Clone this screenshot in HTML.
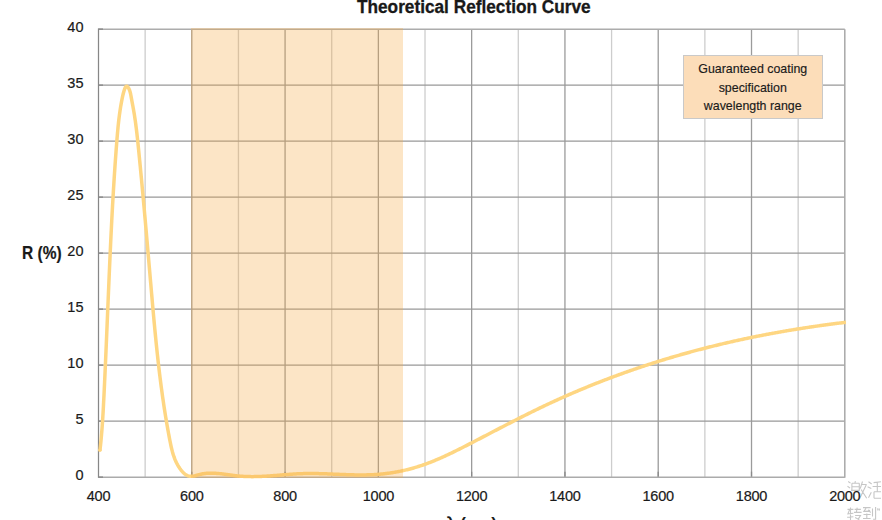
<!DOCTYPE html>
<html><head><meta charset="utf-8"><style>
html,body{margin:0;padding:0;background:#fff;}
body{width:882px;height:520px;position:relative;overflow:hidden;font-family:"Liberation Sans",sans-serif;color:#1a1a1a;}
svg{position:absolute;left:0;top:0;}
.band{position:absolute;left:191.0px;top:28.2px;width:212.0px;height:449.55px;background:rgba(245,168,65,0.3);}
.yl{position:absolute;right:798.5px;font-size:14.5px;line-height:15px;transform:translateY(-50%);-webkit-text-stroke:0.2px #1a1a1a;}
.xl{position:absolute;top:488.5px;font-size:14.5px;letter-spacing:-0.25px;line-height:15px;transform:translateX(-50%);-webkit-text-stroke:0.2px #1a1a1a;}
.title{position:absolute;left:357px;top:-1.5px;white-space:nowrap;font-weight:bold;font-size:18px;line-height:17px;transform:scaleX(0.957);transform-origin:0 0;-webkit-text-stroke:0.3px #111;}
.ytitle{position:absolute;left:21.8px;top:243.5px;font-weight:bold;font-size:17.5px;line-height:18px;transform:scaleX(0.885);transform-origin:0 0;-webkit-text-stroke:0.2px #111;}
.xtitle{position:absolute;left:446px;top:515px;font-weight:bold;font-size:17px;line-height:18px;}
.legend{position:absolute;left:683px;top:55px;width:139.5px;height:64px;border:1px solid #c9c9c9;background:#fcddb9;box-sizing:border-box;}
.ll{position:absolute;left:683px;width:139.5px;text-align:center;font-size:12.4px;line-height:15px;-webkit-text-stroke:0.15px #1a1a1a;}
</style></head><body>
<svg width="882" height="520" viewBox="0 0 882 520">
<line x1="145.14" y1="29.15" x2="145.14" y2="477.15" stroke="#cdcdcd" stroke-width="1.3"/><line x1="191.79" y1="29.15" x2="191.79" y2="477.15" stroke="#9b9b9b" stroke-width="1.3"/><line x1="191.79" y1="471.65" x2="191.79" y2="477.15" stroke="#8a8a8a" stroke-width="1.3"/><line x1="238.43" y1="29.15" x2="238.43" y2="477.15" stroke="#cdcdcd" stroke-width="1.3"/><line x1="285.07" y1="29.15" x2="285.07" y2="477.15" stroke="#9b9b9b" stroke-width="1.3"/><line x1="285.07" y1="471.65" x2="285.07" y2="477.15" stroke="#8a8a8a" stroke-width="1.3"/><line x1="331.72" y1="29.15" x2="331.72" y2="477.15" stroke="#cdcdcd" stroke-width="1.3"/><line x1="378.36" y1="29.15" x2="378.36" y2="477.15" stroke="#9b9b9b" stroke-width="1.3"/><line x1="378.36" y1="471.65" x2="378.36" y2="477.15" stroke="#8a8a8a" stroke-width="1.3"/><line x1="425.01" y1="29.15" x2="425.01" y2="477.15" stroke="#cdcdcd" stroke-width="1.3"/><line x1="471.65" y1="29.15" x2="471.65" y2="477.15" stroke="#9b9b9b" stroke-width="1.3"/><line x1="471.65" y1="471.65" x2="471.65" y2="477.15" stroke="#8a8a8a" stroke-width="1.3"/><line x1="518.29" y1="29.15" x2="518.29" y2="477.15" stroke="#cdcdcd" stroke-width="1.3"/><line x1="564.94" y1="29.15" x2="564.94" y2="477.15" stroke="#9b9b9b" stroke-width="1.3"/><line x1="564.94" y1="471.65" x2="564.94" y2="477.15" stroke="#8a8a8a" stroke-width="1.3"/><line x1="611.58" y1="29.15" x2="611.58" y2="477.15" stroke="#cdcdcd" stroke-width="1.3"/><line x1="658.22" y1="29.15" x2="658.22" y2="477.15" stroke="#9b9b9b" stroke-width="1.3"/><line x1="658.22" y1="471.65" x2="658.22" y2="477.15" stroke="#8a8a8a" stroke-width="1.3"/><line x1="704.87" y1="29.15" x2="704.87" y2="477.15" stroke="#cdcdcd" stroke-width="1.3"/><line x1="751.51" y1="29.15" x2="751.51" y2="477.15" stroke="#9b9b9b" stroke-width="1.3"/><line x1="751.51" y1="471.65" x2="751.51" y2="477.15" stroke="#8a8a8a" stroke-width="1.3"/><line x1="798.16" y1="29.15" x2="798.16" y2="477.15" stroke="#cdcdcd" stroke-width="1.3"/><line x1="98.5" y1="421.15" x2="844.8" y2="421.15" stroke="#989898" stroke-width="1.25"/><line x1="98.5" y1="421.15" x2="103.0" y2="421.15" stroke="#8c8c8c" stroke-width="1.4"/><line x1="98.5" y1="365.15" x2="844.8" y2="365.15" stroke="#989898" stroke-width="1.25"/><line x1="98.5" y1="365.15" x2="103.0" y2="365.15" stroke="#8c8c8c" stroke-width="1.4"/><line x1="98.5" y1="309.15" x2="844.8" y2="309.15" stroke="#989898" stroke-width="1.25"/><line x1="98.5" y1="309.15" x2="103.0" y2="309.15" stroke="#8c8c8c" stroke-width="1.4"/><line x1="98.5" y1="253.15" x2="844.8" y2="253.15" stroke="#989898" stroke-width="1.25"/><line x1="98.5" y1="253.15" x2="103.0" y2="253.15" stroke="#8c8c8c" stroke-width="1.4"/><line x1="98.5" y1="197.15" x2="844.8" y2="197.15" stroke="#989898" stroke-width="1.25"/><line x1="98.5" y1="197.15" x2="103.0" y2="197.15" stroke="#8c8c8c" stroke-width="1.4"/><line x1="98.5" y1="141.15" x2="844.8" y2="141.15" stroke="#989898" stroke-width="1.25"/><line x1="98.5" y1="141.15" x2="103.0" y2="141.15" stroke="#8c8c8c" stroke-width="1.4"/><line x1="98.5" y1="85.15" x2="844.8" y2="85.15" stroke="#989898" stroke-width="1.25"/><line x1="98.5" y1="85.15" x2="103.0" y2="85.15" stroke="#8c8c8c" stroke-width="1.4"/><line x1="98.5" y1="29.15" x2="844.8" y2="29.15" stroke="#acacac" stroke-width="1.5"/><line x1="98.5" y1="29.15" x2="103.0" y2="29.15" stroke="#8c8c8c" stroke-width="1.5"/><line x1="98.5" y1="477.15" x2="844.8" y2="477.15" stroke="#ababab" stroke-width="1.5"/><line x1="98.5" y1="477.15" x2="103.0" y2="477.15" stroke="#8c8c8c" stroke-width="1.5"/><line x1="844.8" y1="29.15" x2="844.8" y2="477.84999999999997" stroke="#a8a8a8" stroke-width="1.5"/><line x1="98.5" y1="28.45" x2="98.5" y2="477.84999999999997" stroke="#878787" stroke-width="1.25"/>
<path d="M99.95 450.33 L100.06 449.35 L100.18 448.37 L100.28 447.40 L100.39 446.42 L100.50 445.44 L100.60 444.46 L100.70 443.48 L100.80 442.50 L100.90 441.53 L100.99 440.55 L101.09 439.57 L101.18 438.59 L101.27 437.61 L101.36 436.63 L101.44 435.64 L101.53 434.66 L101.61 433.68 L101.69 432.70 L101.77 431.72 L101.85 430.74 L101.93 429.76 L102.00 428.77 L102.08 427.79 L102.15 426.81 L102.22 425.83 L102.29 424.84 L102.36 423.86 L102.43 422.88 L102.50 421.89 L102.56 420.91 L102.63 419.92 L102.69 418.94 L102.75 417.96 L102.81 416.97 L102.87 415.99 L102.93 415.00 L102.99 414.02 L103.05 413.04 L103.11 412.05 L103.16 411.07 L103.22 410.08 L103.27 409.10 L103.32 408.11 L103.38 407.13 L103.43 406.14 L103.48 405.16 L103.53 404.17 L103.58 403.19 L103.63 402.20 L103.68 401.21 L103.73 400.23 L103.78 399.24 L103.83 398.26 L103.88 397.27 L103.93 396.29 L103.98 395.30 L104.03 394.32 L104.07 393.33 L104.12 392.35 L104.17 391.36 L104.22 390.38 L104.26 389.39 L104.31 388.41 L104.36 387.42 L104.40 386.44 L104.45 385.45 L104.50 384.47 L104.54 383.48 L104.59 382.50 L104.63 381.51 L104.68 380.53 L104.73 379.54 L104.77 378.56 L104.82 377.57 L104.86 376.59 L104.91 375.60 L104.95 374.62 L105.00 373.63 L105.04 372.65 L105.09 371.66 L105.13 370.68 L105.18 369.69 L105.22 368.71 L105.26 367.72 L105.31 366.74 L105.35 365.75 L105.40 364.77 L105.44 363.79 L105.48 362.80 L105.53 361.82 L105.57 360.83 L105.61 359.85 L105.66 358.86 L105.70 357.88 L105.74 356.89 L105.79 355.91 L105.83 354.92 L105.87 353.94 L105.92 352.96 L105.96 351.97 L106.00 350.99 L106.04 350.00 L106.09 349.02 L106.13 348.03 L106.17 347.05 L106.21 346.06 L106.26 345.08 L106.30 344.09 L106.34 343.11 L106.38 342.13 L106.42 341.14 L106.47 340.16 L106.51 339.17 L106.55 338.19 L106.59 337.20 L106.63 336.22 L106.67 335.23 L106.72 334.25 L106.76 333.27 L106.80 332.28 L106.84 331.30 L106.88 330.31 L106.92 329.33 L106.96 328.34 L107.01 327.36 L107.05 326.37 L107.09 325.39 L107.13 324.41 L107.17 323.42 L107.21 322.44 L107.25 321.45 L107.29 320.47 L107.34 319.48 L107.38 318.50 L107.42 317.51 L107.46 316.53 L107.50 315.55 L107.54 314.56 L107.58 313.58 L107.62 312.59 L107.66 311.61 L107.71 310.62 L107.75 309.64 L107.79 308.65 L107.83 307.67 L107.87 306.68 L107.91 305.70 L107.95 304.72 L107.99 303.73 L108.04 302.75 L108.08 301.76 L108.12 300.78 L108.16 299.79 L108.20 298.81 L108.24 297.82 L108.28 296.84 L108.32 295.85 L108.37 294.87 L108.41 293.88 L108.45 292.90 L108.49 291.92 L108.53 290.93 L108.57 289.95 L108.62 288.96 L108.66 287.98 L108.70 286.99 L108.74 286.01 L108.78 285.02 L108.83 284.04 L108.87 283.05 L108.91 282.07 L108.95 281.08 L108.99 280.10 L109.04 279.11 L109.08 278.13 L109.12 277.14 L109.16 276.16 L109.21 275.17 L109.25 274.19 L109.29 273.20 L109.33 272.22 L109.38 271.23 L109.42 270.25 L109.46 269.26 L109.51 268.28 L109.55 267.29 L109.59 266.31 L109.64 265.32 L109.68 264.34 L109.72 263.35 L109.77 262.36 L109.81 261.38 L109.86 260.39 L109.90 259.41 L109.94 258.42 L109.99 257.44 L110.03 256.45 L110.08 255.47 L110.12 254.48 L110.17 253.50 L110.21 252.51 L110.26 251.52 L110.30 250.54 L110.35 249.55 L110.39 248.57 L110.44 247.58 L110.49 246.60 L110.53 245.61 L110.58 244.63 L110.62 243.64 L110.67 242.66 L110.72 241.67 L110.76 240.68 L110.81 239.70 L110.86 238.71 L110.90 237.73 L110.95 236.74 L111.00 235.76 L111.05 234.77 L111.10 233.79 L111.14 232.80 L111.19 231.81 L111.24 230.83 L111.29 229.84 L111.34 228.86 L111.39 227.87 L111.44 226.89 L111.49 225.90 L111.54 224.92 L111.59 223.93 L111.64 222.95 L111.69 221.96 L111.74 220.97 L111.79 219.99 L111.84 219.00 L111.89 218.02 L111.94 217.03 L111.99 216.05 L112.05 215.06 L112.10 214.08 L112.15 213.09 L112.20 212.11 L112.26 211.12 L112.31 210.14 L112.36 209.15 L112.42 208.17 L112.47 207.18 L112.53 206.20 L112.58 205.21 L112.63 204.23 L112.69 203.24 L112.75 202.26 L112.80 201.27 L112.86 200.29 L112.91 199.31 L112.97 198.32 L113.03 197.34 L113.08 196.35 L113.14 195.37 L113.20 194.38 L113.26 193.40 L113.31 192.42 L113.37 191.43 L113.43 190.45 L113.49 189.46 L113.55 188.48 L113.61 187.50 L113.67 186.51 L113.73 185.53 L113.79 184.54 L113.85 183.56 L113.91 182.58 L113.97 181.59 L114.04 180.61 L114.10 179.63 L114.16 178.64 L114.22 177.66 L114.29 176.68 L114.35 175.69 L114.42 174.71 L114.48 173.73 L114.54 172.75 L114.61 171.76 L114.67 170.78 L114.74 169.80 L114.81 168.81 L114.87 167.83 L114.94 166.85 L115.01 165.87 L115.08 164.89 L115.14 163.90 L115.21 162.92 L115.28 161.94 L115.35 160.96 L115.42 159.98 L115.49 158.99 L115.56 158.01 L115.63 157.03 L115.70 156.05 L115.77 155.07 L115.85 154.09 L115.92 153.11 L115.99 152.12 L116.06 151.14 L116.14 150.16 L116.21 149.18 L116.29 148.20 L116.36 147.22 L116.44 146.24 L116.51 145.26 L116.59 144.28 L116.66 143.30 L116.74 142.32 L116.82 141.34 L116.90 140.36 L116.98 139.38 L117.05 138.40 L117.13 137.42 L117.22 136.44 L117.30 135.46 L117.38 134.48 L117.46 133.51 L117.55 132.53 L117.64 131.55 L117.72 130.57 L117.82 129.59 L117.91 128.61 L118.00 127.63 L118.10 126.65 L118.19 125.67 L118.29 124.69 L118.40 123.71 L118.50 122.73 L118.61 121.75 L118.72 120.77 L118.83 119.79 L118.95 118.82 L119.07 117.84 L119.19 116.86 L119.31 115.87 L119.44 114.89 L119.57 113.91 L119.71 112.93 L119.85 111.95 L119.99 110.97 L120.14 109.99 L120.29 109.01 L120.44 108.03 L120.60 107.04 L120.76 106.06 L120.93 105.08 L121.10 104.10 L121.28 103.11 L121.46 102.13 L121.65 101.15 L121.84 100.16 L122.04 99.18 L122.24 98.19 L122.45 97.21 L122.66 96.22 L122.88 95.23 L123.11 94.24 L123.36 93.25 L123.63 92.24 L123.92 91.23 L124.24 90.21 L124.60 89.17 L124.98 88.16 L125.41 87.25 L125.96 86.45 L126.91 86.17 L127.69 86.77 L128.25 87.52 L128.78 88.44 L129.25 89.45 L129.66 90.49 L130.00 91.54 L130.29 92.60 L130.54 93.67 L130.76 94.74 L130.96 95.80 L131.15 96.85 L131.33 97.89 L131.52 98.91 L131.70 99.92 L131.89 100.92 L132.07 101.91 L132.25 102.89 L132.44 103.86 L132.62 104.82 L132.80 105.78 L132.98 106.73 L133.15 107.69 L133.33 108.64 L133.50 109.59 L133.66 110.54 L133.83 111.49 L133.99 112.44 L134.15 113.40 L134.30 114.35 L134.46 115.31 L134.61 116.27 L134.75 117.23 L134.90 118.19 L135.04 119.16 L135.18 120.12 L135.32 121.09 L135.45 122.05 L135.59 123.02 L135.72 123.99 L135.85 124.96 L135.97 125.93 L136.10 126.91 L136.22 127.88 L136.34 128.85 L136.46 129.83 L136.58 130.81 L136.69 131.78 L136.81 132.76 L136.92 133.74 L137.03 134.72 L137.14 135.70 L137.25 136.68 L137.36 137.66 L137.46 138.64 L137.57 139.62 L137.67 140.60 L137.77 141.58 L137.88 142.57 L137.98 143.55 L138.08 144.53 L138.18 145.52 L138.28 146.50 L138.38 147.48 L138.48 148.47 L138.58 149.45 L138.68 150.43 L138.77 151.42 L138.87 152.40 L138.97 153.39 L139.07 154.37 L139.17 155.35 L139.26 156.34 L139.36 157.32 L139.46 158.30 L139.55 159.29 L139.65 160.27 L139.75 161.25 L139.84 162.23 L139.94 163.22 L140.03 164.20 L140.13 165.18 L140.22 166.17 L140.32 167.15 L140.41 168.13 L140.51 169.12 L140.60 170.10 L140.70 171.08 L140.79 172.06 L140.88 173.05 L140.98 174.03 L141.07 175.01 L141.16 175.99 L141.26 176.98 L141.35 177.96 L141.44 178.94 L141.54 179.92 L141.63 180.91 L141.72 181.89 L141.81 182.87 L141.90 183.85 L142.00 184.84 L142.09 185.82 L142.18 186.80 L142.27 187.78 L142.36 188.76 L142.45 189.75 L142.54 190.73 L142.63 191.71 L142.72 192.69 L142.82 193.68 L142.91 194.66 L143.00 195.64 L143.09 196.62 L143.18 197.60 L143.27 198.58 L143.35 199.57 L143.44 200.55 L143.53 201.53 L143.62 202.51 L143.71 203.49 L143.80 204.48 L143.89 205.46 L143.98 206.44 L144.07 207.42 L144.16 208.40 L144.24 209.38 L144.33 210.37 L144.42 211.35 L144.51 212.33 L144.60 213.31 L144.68 214.29 L144.77 215.27 L144.86 216.25 L144.95 217.24 L145.04 218.22 L145.12 219.20 L145.21 220.18 L145.30 221.16 L145.38 222.14 L145.47 223.12 L145.56 224.11 L145.64 225.09 L145.73 226.07 L145.82 227.05 L145.90 228.03 L145.99 229.01 L146.08 229.99 L146.16 230.98 L146.25 231.96 L146.34 232.94 L146.42 233.92 L146.51 234.90 L146.59 235.88 L146.68 236.86 L146.77 237.84 L146.85 238.83 L146.94 239.81 L147.02 240.79 L147.11 241.77 L147.20 242.75 L147.28 243.73 L147.37 244.71 L147.45 245.69 L147.54 246.67 L147.62 247.66 L147.71 248.64 L147.79 249.62 L147.88 250.60 L147.96 251.58 L148.05 252.56 L148.13 253.54 L148.22 254.52 L148.30 255.51 L148.39 256.49 L148.47 257.47 L148.56 258.45 L148.64 259.43 L148.73 260.41 L148.81 261.39 L148.90 262.37 L148.98 263.35 L149.07 264.34 L149.15 265.32 L149.24 266.30 L149.32 267.28 L149.41 268.26 L149.49 269.24 L149.58 270.22 L149.66 271.20 L149.75 272.18 L149.83 273.17 L149.92 274.15 L150.00 275.13 L150.09 276.11 L150.17 277.09 L150.26 278.07 L150.34 279.05 L150.43 280.03 L150.51 281.02 L150.60 282.00 L150.68 282.98 L150.77 283.96 L150.86 284.94 L150.94 285.92 L151.03 286.90 L151.11 287.89 L151.20 288.87 L151.28 289.85 L151.37 290.83 L151.45 291.81 L151.54 292.79 L151.62 293.77 L151.71 294.76 L151.79 295.74 L151.88 296.72 L151.97 297.70 L152.05 298.68 L152.14 299.66 L152.22 300.64 L152.31 301.63 L152.40 302.61 L152.48 303.59 L152.57 304.57 L152.66 305.55 L152.74 306.53 L152.83 307.51 L152.92 308.50 L153.01 309.48 L153.10 310.46 L153.18 311.44 L153.27 312.42 L153.36 313.40 L153.45 314.38 L153.54 315.37 L153.63 316.35 L153.72 317.33 L153.81 318.31 L153.90 319.29 L153.99 320.27 L154.08 321.25 L154.17 322.24 L154.26 323.22 L154.35 324.20 L154.44 325.18 L154.54 326.16 L154.63 327.14 L154.72 328.12 L154.81 329.10 L154.91 330.09 L155.00 331.07 L155.10 332.05 L155.19 333.03 L155.29 334.01 L155.38 334.99 L155.48 335.97 L155.57 336.95 L155.67 337.93 L155.77 338.91 L155.87 339.90 L155.96 340.88 L156.06 341.86 L156.16 342.84 L156.26 343.82 L156.36 344.80 L156.46 345.78 L156.56 346.76 L156.67 347.74 L156.77 348.72 L156.87 349.70 L156.97 350.68 L157.08 351.66 L157.18 352.64 L157.29 353.62 L157.39 354.60 L157.50 355.58 L157.61 356.56 L157.71 357.54 L157.82 358.52 L157.93 359.50 L158.04 360.48 L158.15 361.46 L158.26 362.44 L158.37 363.42 L158.48 364.40 L158.59 365.38 L158.71 366.36 L158.82 367.34 L158.94 368.32 L159.05 369.30 L159.17 370.28 L159.28 371.25 L159.40 372.23 L159.52 373.21 L159.64 374.19 L159.76 375.17 L159.88 376.15 L160.00 377.13 L160.12 378.10 L160.24 379.08 L160.37 380.06 L160.49 381.04 L160.62 382.02 L160.74 383.00 L160.87 383.97 L161.00 384.95 L161.12 385.93 L161.25 386.91 L161.38 387.89 L161.51 388.86 L161.65 389.84 L161.78 390.82 L161.91 391.79 L162.05 392.77 L162.18 393.75 L162.32 394.73 L162.45 395.70 L162.59 396.68 L162.73 397.66 L162.87 398.63 L163.01 399.61 L163.15 400.59 L163.30 401.56 L163.44 402.54 L163.59 403.51 L163.73 404.49 L163.88 405.47 L164.03 406.44 L164.17 407.42 L164.32 408.39 L164.47 409.37 L164.63 410.34 L164.78 411.32 L164.93 412.29 L165.09 413.27 L165.25 414.24 L165.40 415.22 L165.56 416.19 L165.72 417.17 L165.88 418.14 L166.04 419.11 L166.21 420.09 L166.37 421.06 L166.53 422.04 L166.70 423.01 L166.87 423.98 L167.04 424.96 L167.21 425.93 L167.38 426.90 L167.55 427.88 L167.72 428.85 L167.90 429.82 L168.07 430.79 L168.25 431.77 L168.43 432.74 L168.61 433.71 L168.79 434.68 L168.97 435.65 L169.15 436.63 L169.34 437.60 L169.52 438.57 L169.71 439.54 L169.90 440.51 L170.09 441.48 L170.28 442.45 L170.48 443.42 L170.68 444.39 L170.88 445.36 L171.09 446.32 L171.31 447.28 L171.53 448.24 L171.76 449.20 L172.00 450.16 L172.25 451.11 L172.50 452.06 L172.77 453.00 L173.05 453.94 L173.34 454.88 L173.65 455.81 L173.96 456.73 L174.30 457.65 L174.64 458.57 L175.01 459.48 L175.38 460.38 L175.78 461.27 L176.20 462.16 L176.63 463.05 L177.08 463.92 L177.55 464.79 L178.05 465.65 L178.56 466.50 L179.10 467.34 L179.66 468.17 L180.25 468.99 L180.86 469.81 L181.49 470.61 L182.15 471.39 L182.84 472.15 L183.55 472.87 L184.29 473.54 L185.05 474.16 L185.84 474.72 L187.00 475.39 L188.00 475.82 L189.00 476.11 L190.00 476.26 L191.00 476.30 L192.00 476.25 L193.00 476.12 L194.00 475.93 L195.00 475.70 L196.00 475.44 L197.00 475.16 L198.00 474.89 L199.00 474.62 L200.00 474.37 L200.93 474.17 L201.87 473.98 L202.80 473.82 L203.73 473.67 L204.66 473.55 L205.60 473.44 L206.53 473.36 L207.46 473.29 L208.40 473.23 L209.33 473.19 L210.26 473.17 L211.19 473.16 L212.13 473.17 L213.06 473.19 L213.99 473.22 L214.93 473.26 L215.86 473.32 L216.79 473.38 L217.72 473.46 L218.66 473.54 L219.59 473.63 L220.52 473.73 L221.46 473.83 L222.39 473.94 L223.32 474.05 L224.25 474.17 L225.19 474.30 L226.12 474.42 L227.05 474.55 L227.99 474.68 L228.92 474.81 L229.85 474.94 L230.78 475.07 L231.72 475.19 L232.65 475.32 L233.58 475.44 L234.52 475.56 L235.45 475.68 L236.38 475.78 L237.31 475.89 L238.25 475.98 L239.18 476.07 L240.11 476.16 L241.05 476.23 L241.98 476.30 L242.91 476.36 L243.85 476.41 L244.78 476.46 L245.71 476.50 L246.64 476.54 L247.58 476.57 L248.51 476.59 L249.44 476.61 L250.38 476.62 L251.31 476.63 L252.24 476.63 L253.17 476.63 L254.11 476.62 L255.04 476.60 L255.97 476.59 L256.91 476.56 L257.84 476.54 L258.77 476.51 L259.70 476.47 L260.64 476.44 L261.57 476.39 L262.50 476.35 L263.44 476.30 L264.37 476.25 L265.30 476.20 L266.23 476.14 L267.17 476.08 L268.10 476.02 L269.03 475.96 L269.97 475.89 L270.90 475.82 L271.83 475.75 L272.76 475.68 L273.70 475.61 L274.63 475.54 L275.56 475.46 L276.50 475.39 L277.43 475.31 L278.36 475.24 L279.29 475.16 L280.23 475.09 L281.16 475.01 L282.09 474.93 L283.03 474.86 L283.96 474.78 L284.89 474.71 L285.82 474.63 L286.76 474.56 L287.69 474.49 L288.62 474.41 L289.56 474.35 L290.49 474.28 L291.42 474.21 L292.35 474.15 L293.29 474.09 L294.22 474.03 L295.15 473.97 L296.09 473.92 L297.02 473.87 L297.95 473.82 L298.88 473.77 L299.82 473.73 L300.75 473.69 L301.68 473.66 L302.62 473.63 L303.55 473.60 L304.48 473.58 L305.41 473.56 L306.35 473.54 L307.28 473.53 L308.21 473.52 L309.15 473.52 L310.08 473.51 L311.01 473.51 L311.94 473.52 L312.88 473.52 L313.81 473.53 L314.74 473.54 L315.68 473.55 L316.61 473.57 L317.54 473.59 L318.48 473.61 L319.41 473.63 L320.34 473.65 L321.27 473.68 L322.21 473.71 L323.14 473.74 L324.07 473.77 L325.01 473.80 L325.94 473.83 L326.87 473.86 L327.80 473.90 L328.74 473.94 L329.67 473.97 L330.60 474.01 L331.54 474.05 L332.47 474.09 L333.40 474.13 L334.33 474.16 L335.27 474.20 L336.20 474.24 L337.13 474.28 L338.07 474.32 L339.00 474.36 L339.93 474.40 L340.86 474.44 L341.80 474.48 L342.73 474.51 L343.66 474.55 L344.60 474.58 L345.53 474.62 L346.46 474.65 L347.39 474.68 L348.33 474.71 L349.26 474.74 L350.19 474.77 L351.13 474.80 L352.06 474.82 L352.99 474.84 L353.92 474.86 L354.86 474.88 L355.79 474.90 L356.72 474.91 L357.66 474.92 L358.59 474.93 L359.52 474.93 L360.45 474.94 L361.39 474.94 L362.32 474.93 L363.25 474.93 L364.19 474.92 L365.12 474.91 L366.05 474.89 L366.98 474.87 L367.92 474.85 L368.85 474.82 L369.78 474.79 L370.72 474.76 L371.65 474.72 L372.58 474.68 L373.51 474.63 L374.45 474.58 L375.38 474.53 L376.31 474.47 L377.25 474.40 L378.18 474.33 L379.11 474.26 L380.04 474.18 L380.98 474.09 L381.91 474.00 L382.84 473.91 L383.78 473.81 L384.71 473.71 L385.64 473.60 L386.57 473.48 L387.51 473.36 L388.44 473.24 L389.37 473.11 L390.31 472.98 L391.24 472.84 L392.17 472.69 L393.11 472.54 L394.04 472.39 L394.97 472.23 L395.90 472.06 L396.84 471.89 L397.77 471.72 L398.70 471.54 L399.64 471.35 L400.57 471.16 L401.50 470.96 L402.43 470.76 L403.37 470.56 L404.30 470.35 L405.23 470.13 L406.17 469.91 L407.10 469.68 L408.03 469.45 L408.96 469.21 L409.90 468.97 L410.83 468.72 L411.76 468.46 L412.70 468.20 L413.63 467.94 L414.56 467.67 L415.49 467.39 L416.43 467.11 L417.36 466.83 L418.29 466.54 L419.23 466.24 L420.16 465.94 L421.09 465.63 L422.02 465.32 L422.96 465.00 L423.89 464.67 L424.82 464.34 L425.76 464.01 L426.69 463.67 L427.62 463.32 L428.55 462.97 L429.49 462.62 L430.42 462.26 L431.35 461.89 L432.29 461.52 L433.22 461.14 L434.15 460.76 L435.08 460.38 L436.02 459.99 L436.95 459.60 L437.88 459.20 L438.82 458.80 L439.75 458.39 L440.68 457.98 L441.61 457.57 L442.55 457.15 L443.48 456.73 L444.41 456.31 L445.35 455.88 L446.28 455.45 L447.21 455.02 L448.14 454.58 L449.08 454.14 L450.01 453.70 L450.94 453.25 L451.88 452.80 L452.81 452.35 L453.74 451.90 L454.67 451.44 L455.61 450.99 L456.54 450.53 L457.47 450.06 L458.41 449.60 L459.34 449.13 L460.27 448.67 L461.20 448.20 L462.14 447.72 L463.07 447.25 L464.00 446.78 L464.94 446.30 L465.87 445.83 L466.80 445.35 L467.74 444.87 L468.67 444.39 L469.60 443.91 L470.53 443.43 L471.47 442.95 L472.40 442.47 L473.33 441.98 L474.27 441.50 L475.20 441.02 L476.13 440.53 L477.06 440.05 L478.00 439.56 L478.93 439.08 L479.86 438.60 L480.80 438.11 L481.73 437.62 L482.66 437.14 L483.59 436.65 L484.53 436.17 L485.46 435.68 L486.39 435.20 L487.33 434.71 L488.26 434.22 L489.19 433.74 L490.12 433.25 L491.06 432.76 L491.99 432.28 L492.92 431.79 L493.86 431.31 L494.79 430.82 L495.72 430.33 L496.65 429.85 L497.59 429.36 L498.52 428.88 L499.45 428.39 L500.39 427.91 L501.32 427.43 L502.25 426.94 L503.18 426.46 L504.12 425.97 L505.05 425.49 L505.98 425.01 L506.92 424.53 L507.85 424.05 L508.78 423.57 L509.71 423.09 L510.65 422.61 L511.58 422.13 L512.51 421.65 L513.45 421.17 L514.38 420.69 L515.31 420.22 L516.24 419.74 L517.18 419.27 L518.11 418.79 L519.04 418.32 L519.98 417.85 L520.91 417.37 L521.84 416.90 L522.77 416.43 L523.71 415.96 L524.64 415.49 L525.57 415.03 L526.51 414.56 L527.44 414.10 L528.37 413.63 L529.30 413.17 L530.24 412.71 L531.17 412.25 L532.10 411.79 L533.04 411.33 L533.97 410.87 L534.90 410.41 L535.84 409.96 L536.77 409.50 L537.70 409.05 L538.63 408.60 L539.57 408.15 L540.50 407.70 L541.43 407.26 L542.37 406.81 L543.30 406.37 L544.23 405.92 L545.16 405.48 L546.10 405.04 L547.03 404.60 L547.96 404.17 L548.90 403.73 L549.83 403.29 L550.76 402.86 L551.69 402.43 L552.63 402.00 L553.56 401.57 L554.49 401.14 L555.43 400.71 L556.36 400.29 L557.29 399.87 L558.22 399.44 L559.16 399.02 L560.09 398.60 L561.02 398.18 L561.96 397.77 L562.89 397.35 L563.82 396.94 L564.75 396.52 L565.69 396.11 L566.62 395.70 L567.55 395.29 L568.49 394.88 L569.42 394.48 L570.35 394.07 L571.28 393.67 L572.22 393.26 L573.15 392.86 L574.08 392.46 L575.02 392.06 L575.95 391.67 L576.88 391.27 L577.81 390.87 L578.75 390.48 L579.68 390.09 L580.61 389.70 L581.55 389.31 L582.48 388.92 L583.41 388.53 L584.34 388.15 L585.28 387.76 L586.21 387.38 L587.14 387.00 L588.08 386.61 L589.01 386.24 L589.94 385.86 L590.87 385.48 L591.81 385.10 L592.74 384.73 L593.67 384.36 L594.61 383.98 L595.54 383.61 L596.47 383.24 L597.40 382.88 L598.34 382.51 L599.27 382.14 L600.20 381.78 L601.14 381.41 L602.07 381.05 L603.00 380.69 L603.93 380.33 L604.87 379.97 L605.80 379.62 L606.73 379.26 L607.67 378.90 L608.60 378.55 L609.53 378.20 L610.46 377.85 L611.40 377.50 L612.33 377.15 L613.26 376.80 L614.20 376.45 L615.13 376.11 L616.06 375.77 L617.00 375.42 L617.93 375.08 L618.86 374.74 L619.79 374.40 L620.73 374.06 L621.66 373.73 L622.59 373.39 L623.53 373.06 L624.46 372.72 L625.39 372.39 L626.32 372.06 L627.26 371.73 L628.19 371.40 L629.12 371.07 L630.06 370.75 L630.99 370.42 L631.92 370.10 L632.85 369.78 L633.79 369.45 L634.72 369.13 L635.65 368.81 L636.59 368.50 L637.52 368.18 L638.45 367.86 L639.38 367.55 L640.32 367.24 L641.25 366.92 L642.18 366.61 L643.12 366.30 L644.05 365.99 L644.98 365.68 L645.91 365.38 L646.85 365.07 L647.78 364.77 L648.71 364.46 L649.65 364.16 L650.58 363.86 L651.51 363.56 L652.44 363.26 L653.38 362.96 L654.31 362.67 L655.24 362.37 L656.18 362.08 L657.11 361.78 L658.04 361.49 L658.97 361.20 L659.91 360.91 L660.84 360.62 L661.77 360.33 L662.71 360.04 L663.64 359.76 L664.57 359.47 L665.50 359.19 L666.44 358.91 L667.37 358.63 L668.30 358.35 L669.24 358.07 L670.17 357.79 L671.10 357.51 L672.03 357.23 L672.97 356.96 L673.90 356.69 L674.83 356.41 L675.77 356.14 L676.70 355.87 L677.63 355.60 L678.56 355.33 L679.50 355.06 L680.43 354.80 L681.36 354.53 L682.30 354.27 L683.23 354.00 L684.16 353.74 L685.10 353.48 L686.03 353.22 L686.96 352.96 L687.89 352.70 L688.83 352.45 L689.76 352.19 L690.69 351.93 L691.63 351.68 L692.56 351.43 L693.49 351.17 L694.42 350.92 L695.36 350.67 L696.29 350.42 L697.22 350.18 L698.16 349.93 L699.09 349.68 L700.02 349.44 L700.95 349.19 L701.89 348.95 L702.82 348.71 L703.75 348.47 L704.69 348.23 L705.62 347.99 L706.55 347.75 L707.48 347.52 L708.42 347.28 L709.35 347.04 L710.28 346.81 L711.22 346.58 L712.15 346.35 L713.08 346.11 L714.01 345.88 L714.95 345.66 L715.88 345.43 L716.81 345.20 L717.75 344.97 L718.68 344.75 L719.61 344.53 L720.54 344.30 L721.48 344.08 L722.41 343.86 L723.34 343.64 L724.28 343.42 L725.21 343.20 L726.14 342.98 L727.07 342.77 L728.01 342.55 L728.94 342.34 L729.87 342.12 L730.81 341.91 L731.74 341.70 L732.67 341.49 L733.60 341.28 L734.54 341.07 L735.47 340.86 L736.40 340.65 L737.34 340.45 L738.27 340.24 L739.20 340.04 L740.13 339.84 L741.07 339.63 L742.00 339.43 L742.93 339.23 L743.87 339.03 L744.80 338.83 L745.73 338.63 L746.66 338.44 L747.60 338.24 L748.53 338.05 L749.46 337.85 L750.40 337.66 L751.33 337.47 L752.26 337.28 L753.19 337.08 L754.13 336.89 L755.06 336.71 L755.99 336.52 L756.93 336.33 L757.86 336.15 L758.79 335.96 L759.73 335.78 L760.66 335.59 L761.59 335.41 L762.52 335.23 L763.46 335.05 L764.39 334.87 L765.32 334.69 L766.26 334.51 L767.19 334.33 L768.12 334.16 L769.05 333.98 L769.99 333.81 L770.92 333.63 L771.85 333.46 L772.79 333.29 L773.72 333.12 L774.65 332.94 L775.58 332.78 L776.52 332.61 L777.45 332.44 L778.38 332.27 L779.32 332.11 L780.25 331.94 L781.18 331.78 L782.11 331.61 L783.05 331.45 L783.98 331.29 L784.91 331.13 L785.85 330.96 L786.78 330.81 L787.71 330.65 L788.64 330.49 L789.58 330.33 L790.51 330.18 L791.44 330.02 L792.38 329.87 L793.31 329.71 L794.24 329.56 L795.17 329.41 L796.11 329.25 L797.04 329.10 L797.97 328.95 L798.91 328.81 L799.84 328.66 L800.77 328.51 L801.70 328.36 L802.64 328.22 L803.57 328.07 L804.50 327.93 L805.44 327.78 L806.37 327.64 L807.30 327.50 L808.23 327.36 L809.17 327.22 L810.10 327.08 L811.03 326.94 L811.97 326.80 L812.90 326.67 L813.83 326.53 L814.76 326.39 L815.70 326.26 L816.63 326.12 L817.56 325.99 L818.50 325.86 L819.43 325.73 L820.36 325.60 L821.29 325.46 L822.23 325.34 L823.16 325.21 L824.09 325.08 L825.03 324.95 L825.96 324.82 L826.89 324.70 L827.82 324.57 L828.76 324.45 L829.69 324.33 L830.62 324.20 L831.56 324.08 L832.49 323.96 L833.42 323.84 L834.35 323.72 L835.29 323.60 L836.22 323.48 L837.15 323.36 L838.09 323.25 L839.02 323.13 L839.95 323.01 L840.89 322.90 L841.82 322.78 L842.75 322.67 L843.68 322.56 L844.62 322.45 L844.80 322.42 L845.9 322.33" fill="none" stroke="#fed682" stroke-width="3.5" stroke-linejoin="round"/><circle cx="99.95" cy="450.33" r="1.75" fill="#fed682"/>
</svg>
<svg width="882" height="520" viewBox="0 0 882 520" style="position:absolute;left:0;top:0"><path d="M848.2 481.5 L850.5 483.1 M847.5 486.3 L850.1 488.1 M855.4 481.2 L854.9 483.1 M851.9 483.3 L859.3 483.3 M851.9 483.3 L851.9 490.4 M859.3 483.3 L859.3 490.4 M851.9 486.8 L859.3 486.8 M851.0 490.4 L859.7 490.4 M862.5 481.5 L860.2 488.6 M861.1 484.5 L866.7 484.5 M866.2 484.9 L860.2 497.4 M861.1 489.5 L866.7 498.3 M868.5 481.7 L871.7 484.0 M867.6 486.8 L871.3 488.6 M868.5 497.8 L871.3 492.3 M873.6 482.6 L881.0 481.7 M872.6 486.5 L881.0 486.5 M877.3 482.6 L877.3 491.4 M874.0 491.8 L881.0 491.8 M874.0 491.8 L874.0 498.3 M874.0 498.3 L881.0 498.3 M847.5 509.4 L853.4 509.4 M850.5 507.6 L850.5 520.0 M849.6 509.6 L847.9 513.8 L853.4 513.2 M847.1 517.2 L853.4 516.8 M854.6 509.4 L860.9 509.4 M857.2 507.6 L856.3 512.6 M854.0 512.4 L861.6 512.4 M855.1 515.5 L860.5 515.5 L858.4 518.9 M855.1 517.6 L859.3 519.7 M863.0 507.6 L870.6 507.6 M866.0 508.4 L863.9 511.3 L870.2 511.1 M868.5 509.6 L870.6 512.6 M863.5 514.5 L870.6 514.5 M866.8 513.4 L866.8 518.5 M863.0 518.5 L870.6 518.5 M872.5 508.4 L872.5 516.4 M875.6 507.1 L875.6 519.3 L873.1 519.3 M877.5 508.4 L878.1 510.5 M879.0 508.4 L879.6 510.5" fill="none" stroke="#c6c6c6" stroke-width="1.1" stroke-linecap="butt"/></svg>
<div class="band"></div>
<div class="yl" style="top:475.1px">0</div><div class="yl" style="top:419.1px">5</div><div class="yl" style="top:363.1px">10</div><div class="yl" style="top:307.1px">15</div><div class="yl" style="top:251.1px">20</div><div class="yl" style="top:195.1px">25</div><div class="yl" style="top:139.1px">30</div><div class="yl" style="top:83.1px">35</div><div class="yl" style="top:27.1px">40</div>
<div class="xl" style="left:98.5px">400</div><div class="xl" style="left:191.8px">600</div><div class="xl" style="left:285.1px">800</div><div class="xl" style="left:378.4px">1000</div><div class="xl" style="left:471.6px">1200</div><div class="xl" style="left:564.9px">1400</div><div class="xl" style="left:658.2px">1600</div><div class="xl" style="left:751.5px">1800</div><div class="xl" style="left:844.8px">2000</div>
<div class="title">Theoretical Reflection Curve</div>
<div class="ytitle">R (%)</div>
<div class="xtitle">&#955; (nm)</div>
<div class="legend"></div><div class="ll" style="top:61.9px">Guaranteed coating</div><div class="ll" style="top:80.5px">specification</div><div class="ll" style="top:99.2px">wavelength range</div>
</body></html>
